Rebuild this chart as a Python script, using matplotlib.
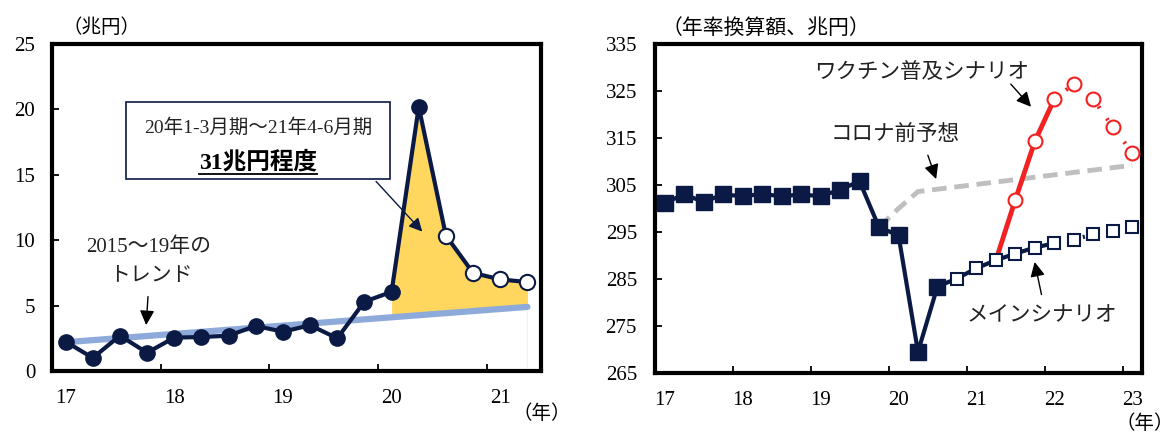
import numpy as np
import matplotlib.pyplot as plt
from matplotlib.patches import Rectangle

plt.rcParams['font.family'] = ['Liberation Serif', 'Noto Sans CJK JP']

navy = '#0b1a45'
red = '#f02222'
yellow = '#ffd75e'
trend_blue = '#8eaadb'
grey = '#bfbfbf'

# left chart: quarterly 2017Q1-2021Q2 (兆円)
gap = [2.25, 1.0, 2.7, 1.4, 2.55, 2.6, 2.7, 3.45, 3.0, 3.5, 2.5, 5.3, 6.05,
       20.2, 10.35, 7.5, 7.0, 6.8]
n_actual_l = 14
trend_ends = [2.2, 4.9]
year_labels_l = ['17', '18', '19', '20', '21']

# right chart: quarterly 2017Q1-2023Q1 (年率換算額、兆円)
actual = [301.2, 303.0, 301.4, 303.0, 302.6, 303.1, 302.6, 303.0, 302.6,
          304.0, 305.8, 296.0, 294.3, 269.5, 283.4]
main = [283.4, 285.1, 287.3, 289.0, 290.4, 291.7, 292.6, 293.4, 294.5,
        295.3, 296.1]
main_start = 14
vaccine = [289.0, 301.9, 314.3, 323.3, 326.5, 323.3, 317.3, 311.9]
vaccine_start = 17
precovid_q = [11, 12, 13, 24]
precovid = [296.0, 300.0, 303.6, 309.2]
year_labels_r = ['17', '18', '19', '20', '21', '22', '23']

W, H = 1175, 434
fig = plt.figure(figsize=(W / 100, H / 100), dpi=100)
ax1 = fig.add_axes([52 / W, 1 - 371 / H, 489 / W, 327 / H])
ax2 = fig.add_axes([655 / W, 1 - 373 / H, 487 / W, 329 / H])


def style(ax, nyears, yt, pad):
    for s in ax.spines.values():
        s.set_linewidth(3)
    ax.set_xticks(np.arange(0, nyears * 4, 4))
    ax.set_xticklabels([])
    ax.set_yticks(yt)
    ax.tick_params(which='major', direction='in', length=5, width=1.3,
                   labelsize=15, pad=pad)
    ax.tick_params(which='minor', length=0, labelsize=15, pad=13)


arrow = dict(arrowstyle='-|>', color='black', lw=1, mutation_scale=22)

# ---- left ----
xl = np.arange(len(gap)) + 0.5
ax1.set_xlim(0, len(gap))
ax1.set_ylim(0, 25)
style(ax1, 5, range(0, 26, 5), 12)
ax1.set_xticks(np.arange(0, 20, 4) + 0.5, minor=True)
ax1.set_xticklabels(year_labels_l, minor=True)

tx = [xl[0], xl[-1]]
fx = xl[n_actual_l - 2:]
ax1.fill_between(fx, np.array(gap[n_actual_l - 2:]), np.interp(fx, tx, trend_ends),
                 color=yellow, lw=0, zorder=1)
ax1.plot([fx[-1], fx[-1]], [0, np.interp(fx[-1], tx, trend_ends)],
         color='#fff3cc', lw=0.8, zorder=1)
ax1.plot(tx, trend_ends, color=trend_blue, lw=4.5, solid_capstyle='round', zorder=2)
ax1.plot(xl, gap, color=navy, lw=3, zorder=3)
ax1.plot(xl[:n_actual_l], gap[:n_actual_l], 'o', color=navy, ms=11, zorder=4)
ax1.plot(xl[n_actual_l:], gap[n_actual_l:], 'o', mfc='white', mec=navy, mew=1.5,
         ms=11, zorder=4)

ax1.add_patch(Rectangle((2.73, 14.65), 9.72, 5.9, fill=False, ec=navy, lw=1.2, zorder=5))
ax1.text(7.59, 18.6, '20年1-3月期～21年4-6月期', ha='center', va='center',
         fontsize=14, color='#222222', zorder=6)
big = ax1.text(7.59, 16.0, '31兆円程度', ha='center', va='center', fontsize=17,
               fontweight='bold', color='black', zorder=6)
ax1.annotate('', xy=(13.7, 10.5), xytext=(11.86, 14.65),
             arrowprops=dict(arrowstyle='-|>', color=navy, lw=1, mutation_scale=20))

ax1.text(3.57, 9.5, '2015～19年の', ha='center', va='center', fontsize=15,
         color='#222222')
ax1.text(3.65, 7.2, 'トレンド', ha='center', va='center', fontsize=15,
         color='#222222')
ax1.annotate('', xy=(3.46, 3.3), xytext=(3.54, 5.9), arrowprops=arrow)

fig.text(62 / W, 1 - 28 / H, '（兆円）', ha='left', va='center', fontsize=14)
fig.text(512 / W, 1 - 414 / H, '（年）', ha='left', va='center', fontsize=14)

# ---- right ----
xr = np.arange(25) + 0.5
ax2.set_xlim(0, 25)
ax2.set_ylim(265, 335)
style(ax2, 7, range(265, 336, 10), 13)
ax2.set_xticks(np.arange(0, 28, 4) + 0.5, minor=True)
ax2.set_xticklabels(year_labels_r, minor=True)

ax2.plot(xr[precovid_q], precovid, color=grey, lw=3.5, dashes=(3, 1.6), zorder=2)

xv = xr[vaccine_start:vaccine_start + len(vaccine)]
ax2.plot(xv[:4], vaccine[:4], color=red, lw=3.5, zorder=3)
ax2.plot(xv[3:], vaccine[3:], color=red, lw=3, ls=(0, (0.5, 3)), zorder=3)
ax2.plot(xv[1:], vaccine[1:], 'o', mfc='white', mec=red, mew=1.5, ms=10, zorder=4)

xa = xr[:len(actual)]
ax2.plot(xa, actual, color=navy, lw=3, zorder=5)
xm = xr[main_start:main_start + len(main)]
ax2.plot(xm[:7], main[:7], color=navy, lw=3, zorder=5)
ax2.plot(xm[6:], main[6:], color=navy, lw=3, ls=(0, (0.5, 3)), zorder=5)
ax2.plot(xa, actual, 's', color=navy, ms=11, zorder=6)
ax2.plot(xm[1:], main[1:], 's', mfc='white', mec=navy, mew=1.5, ms=8.5, zorder=6)

ax2.text(13.68, 328.8, 'ワクチン普及シナリオ', ha='center', va='center', fontsize=15.5,
         color='#222222')
ax2.annotate('', xy=(19.4, 321.2), xytext=(18.17, 326.9), arrowprops=arrow)
ax2.text(12.32, 315.7, 'コロナ前予想', ha='center', va='center', fontsize=15.5,
         color='#222222')
ax2.annotate('', xy=(14.48, 305.7), xytext=(13.96, 311.9), arrowprops=arrow)
ax2.text(19.84, 276.9, 'メインシナリオ', ha='center', va='center', fontsize=15.5,
         color='#222222')
ax2.annotate('', xy=(19.46, 289.2), xytext=(19.87, 281.1), arrowprops=arrow)

fig.text(662 / W, 1 - 29 / H, '（年率換算額、兆円）', ha='left', va='center', fontsize=15)
fig.text(1174 / W, 1 - 424 / H, '（年）', ha='right', va='center', fontsize=14)

# underline under the bold total, matched to the rendered text width
fig.canvas.draw()
bb = big.get_window_extent().transformed(ax1.transData.inverted())
ax1.plot([bb.x0, bb.x1], [bb.y0 - 0.05, bb.y0 - 0.05], color='black', lw=1.3, zorder=6)

fig.savefig('out.png', dpi=100)
